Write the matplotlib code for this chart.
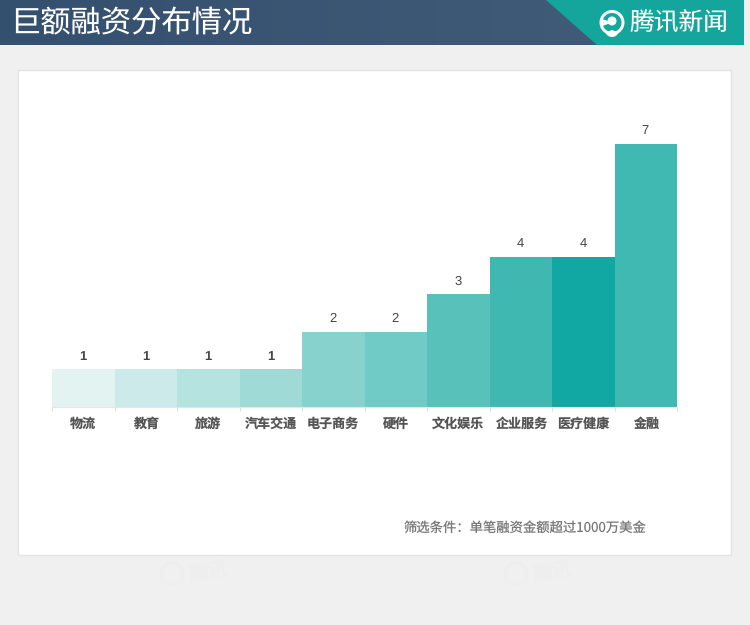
import matplotlib
matplotlib.use("Agg")
import matplotlib.pyplot as plt
import numpy as np
from matplotlib.patches import Rectangle, Polygon, Circle, Wedge

plt.rcParams['font.family'] = ['Noto Sans CJK SC', 'DejaVu Sans']
plt.rcParams['text.hinting'] = 'no_hinting'
plt.rcParams['text.hinting_factor'] = 1

categories = ['物流', '教育', '旅游', '汽车交通', '电子商务', '硬件', '文化娱乐', '企业服务', '医疗健康', '金融']
values = [1, 1, 1, 1, 2, 2, 3, 4, 4, 7]
bar_colors = ['#e3f3f2', '#cdeaea', '#b5e3e0', '#9fdad6', '#87d2cc',
              '#70cbc6', '#58c1ba', '#40b8b2', '#11a8a3', '#40b9b3']
title = '巨额融资分布情况'
note = '筛选条件：单笔融资金额超过1000万美金'
brand = '腾讯新闻'

W, H = 750, 625
fig = plt.figure(figsize=(W / 100, H / 100), dpi=100, facecolor='#f0f0f0')

# page layer in pixel coordinates
bg = fig.add_axes([0, 0, 1, 1], zorder=0)
bg.axis('off')

grad = np.linspace(0, 1, 256).reshape(1, -1)
cmap = matplotlib.colors.LinearSegmentedColormap.from_list('h', ['#34506f', '#405b77'])
bg.imshow(grad, extent=(0, 600, 45, 0), cmap=cmap, aspect='auto', zorder=1)
bg.set_xlim(0, W)
bg.set_ylim(H, 0)
bg.add_patch(Polygon([(546, 0), (744, 0), (744, 45), (597, 45)], fc='#14a59c', ec='none', zorder=2))
bg.text(10.5, 32, title, color='white', fontsize=21.8, va='baseline', ha='left', zorder=3)

# logo: ring with a small figure inside
bg.add_patch(Circle((612, 22.5), 12.5, fc='white', ec='none', zorder=3))
bg.add_patch(Wedge((612, 22.5), 9.5, 200, 520, fc='#14a59c', ec='none', zorder=4))
bg.add_patch(Circle((612, 21), 4.5, fc='white', ec='none', zorder=5))
bg.add_patch(Wedge((612, 30), 7, 20, 160, fc='white', ec='none', zorder=5))
bg.text(679, 31, brand, color='white', fontsize=17.8, va='baseline', ha='center', zorder=3)

# panel
bg.add_patch(Rectangle((18, 70), 713, 485, fc='white', ec='#e4e4e4', lw=1, zorder=1))

# watermarks
for wx in (172, 516):
    bg.add_patch(Circle((wx, 574), 11, fc='none', ec='#eeeeee', lw=2, zorder=1))
    bg.text(wx + 16, 572, '腾讯', color='#eeeeee', fontsize=14, fontweight='bold',
            rotation=10, va='center', ha='left', zorder=1)

bg.text(647, 532, note, color='#777777', fontsize=9.6, ha='right', va='baseline', zorder=3)

# chart
x0, x1, base, top = 52, 677, 407, 107
unit = 37.6
ax = fig.add_axes([x0 / W, 1 - base / H, (x1 - x0) / W, (base - top) / H], zorder=2)
ax.patch.set_alpha(0)
ax.set_xlim(-0.5, len(categories) - 0.5)
ax.set_ylim(0, (base - top) / unit)
pos = np.arange(len(categories))
ax.bar(pos, values, width=1.0, color=bar_colors, linewidth=0)
for p, v in zip(pos, values):
    ax.annotate(str(v), (p, v), xytext=(-0.3, 6.8), textcoords='offset points', ha='center',
                va='baseline', fontsize=9, color='#444444', family='Liberation Sans',
                fontweight='bold' if v == 1 else 'normal')
ax.set_xticks(np.append(pos - 0.5, pos[-1] + 0.5))
ax.set_xticklabels([])
ax.tick_params(axis='x', length=3.2, width=0.8, color='#dddddd')
ax.set_yticks([])
for s in ('top', 'left', 'right'):
    ax.spines[s].set_visible(False)
ax.spines['bottom'].set_color('#e5e5e5')
ax.spines['bottom'].set_linewidth(0.8)
for p, c in zip(pos, categories):
    ax.annotate(c, (p, 0), xytext=(0, -14.7), textcoords='offset points', ha='center',
                va='baseline', fontsize=9.4, color='#555555', fontweight='bold')

fig.savefig('out.png', dpi=100, facecolor=fig.get_facecolor())
